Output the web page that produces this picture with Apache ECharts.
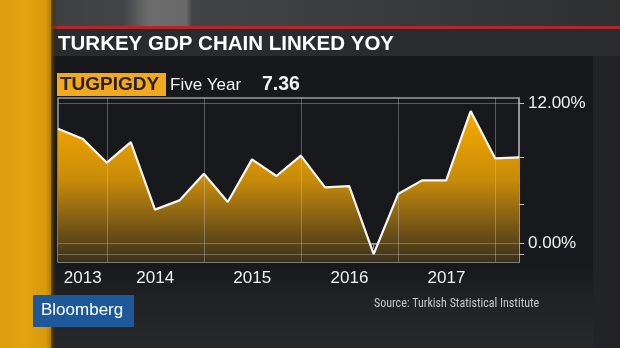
<!DOCTYPE html>
<html>
<head>
<meta charset="utf-8">
<script src="https://cdn.jsdelivr.net/npm/echarts@6/dist/echarts.min.js"></script>
<style>
html,body{margin:0;padding:0;background:#1d1e21;}
#c{width:620px;height:348px;}
</style>
</head>
<body>
<div id="c"></div>
<script>
// ---- data ----
var quarterEnds = ['2013-06-30','2013-09-30','2013-12-31','2014-03-31','2014-06-30','2014-09-30','2014-12-31','2015-03-31','2015-06-30','2015-09-30','2015-12-31','2016-03-31','2016-06-30','2016-09-30','2016-12-31','2017-03-31','2017-06-30','2017-09-30','2017-12-31','2018-03-31'];
var gdpYoY = [9.81, 8.96, 6.91, 8.67, 2.90, 3.69, 5.97, 3.55, 7.19, 5.77, 7.51, 4.80, 4.91, -0.89, 4.23, 5.40, 5.40, 11.31, 7.28, 7.36];
var yearLabelDates = ['2013-10-01','2014-07-01','2015-07-01','2016-07-01','2017-07-01'];
var yearLines = ['2014-01-01','2015-01-01','2016-01-01','2017-01-01','2018-01-01'];
var yLabelValues = [12, 0];
var yTickValues = [12, 7.36, 3.4, 0, -0.9];
var yGridValues = [12, 0, -0.9];
var titleText = 'TURKEY GDP CHAIN LINKED YOY';
var tickerText = 'TUGPIGDY';
var periodText = 'Five Year';
var lastValueText = '7.36';
var sourceText = 'Source: Turkish Statistical Institute';

function ts(s){ return new Date(s + 'T00:00:00Z').getTime(); }
var seriesData = quarterEnds.map(function(d,i){ return [ts(d), gdpYoY[i]]; });
var quarterTicks = [];
(function(){
  var ys=[2013,2014,2015,2016,2017,2018];
  var md=['-03-31','-06-30','-09-30','-12-31'];
  ys.forEach(function(y){ md.forEach(function(m){ var t=ts(y+m); if(t>=ts(quarterEnds[0]) && t<=ts(quarterEnds[quarterEnds.length-1])) quarterTicks.push(t);});});
})();

var chart = echarts.init(document.getElementById('c'), null, {renderer:'canvas'});
var font = '"Liberation Sans", Arial, sans-serif';
var narrow = '"Liberation Sans Narrow", "Roboto Condensed", "DejaVu Sans Condensed", sans-serif';

var markLineData = [];
yearLines.forEach(function(d){ markLineData.push({xAxis: ts(d)}); });
yGridValues.forEach(function(v){ markLineData.push({yAxis: v}); });

chart.setOption({
  backgroundColor: '#1d1e21',
  animation: false,
  graphic: [
    {type:'rect', z:-10, shape:{x:0,y:0,width:620,height:27}, style:{fill:{type:'linear',x:0,y:0,x2:1,y2:0,colorStops:[{offset:0,color:'#3a3b3d'},{offset:0.2,color:'#444547'},{offset:0.24,color:'#6c6c6c'},{offset:0.3,color:'#6a6a6a'},{offset:0.31,color:'#434446'},{offset:1,color:'#2e2f31'}]}}},
    {type:'rect', z:-9, shape:{x:50,y:26,width:570,height:3}, style:{fill:'#b3272b'}},
    {type:'rect', z:-9, shape:{x:50,y:29,width:570,height:27}, style:{fill:'#2a2b2e'}},
    {type:'rect', z:-9, shape:{x:593,y:56,width:27,height:292}, style:{fill:'#222326'}},
    {type:'rect', z:-9, shape:{x:50,y:56,width:543,height:292}, style:{fill:{type:'linear',x:0,y:0,x2:0,y2:1,colorStops:[{offset:0,color:'#17181b'},{offset:0.72,color:'#18191c'},{offset:0.85,color:'#222325'},{offset:1,color:'#27282a'}]}}},
    {type:'rect', z:-8, shape:{x:0,y:0,width:51,height:348}, style:{fill:{type:'linear',x:0,y:0,x2:1,y2:0,colorStops:[{offset:0,color:'#dc9c0c'},{offset:0.5,color:'#e3a412'},{offset:0.9,color:'#d89a0a'},{offset:1,color:'#b27c08'}]}}},
    {type:'rect', z:-8, shape:{x:51,y:0,width:6,height:348}, style:{fill:{type:'linear',x:0,y:0,x2:1,y2:0,colorStops:[{offset:0,color:'#6a4a08'},{offset:1,color:'rgba(30,30,32,0)'}]}}},
    {type:'text', z:5, left:58, top:34, style:{text:titleText, fill:'#ffffff', font:'bold 20.5px ' + font}},
    {type:'rect', z:5, shape:{x:57,y:73,width:109,height:23}, style:{fill:'#f3a91e'}},
    {type:'text', z:6, left:60, top:75, style:{text:tickerText, fill:'#2a2420', font:'bold 19px ' + font}},
    {type:'text', z:6, left:170, top:77, style:{text:periodText, fill:'#f2f2f2', font:'17px ' + font}},
    {type:'text', z:6, left:262, top:75, style:{text:lastValueText, fill:'#f2f2f2', font:'bold 19.5px ' + font}},
    {type:'rect', z:5, shape:{x:33,y:295,width:101,height:32}, style:{fill:'#1d5898'}},
    {type:'text', z:6, left:41, top:302, style:{text:'Bloomberg', fill:'#ffffff', font:'17px ' + font}},
    {type:'text', z:6, left:374, top:298, style:{text:sourceText, fill:'#c8c8c8', font:'12px ' + narrow}}
  ],
  grid: {left:58, top:98, width:461, height:164, show:true, borderColor:'#9c9c9c', borderWidth:1.5, backgroundColor:'transparent'},
  xAxis: {
    type:'value',
    min: ts(quarterEnds[0]),
    max: ts(quarterEnds[quarterEnds.length-1]),
    axisLine:{show:true, lineStyle:{color:'#9c9c9c', width:1.5}},
    axisTick:{show:true, length:5, lineStyle:{color:'#9c9c9c'}, customValues: quarterTicks},
    axisLabel:{show:true, color:'#f0f0f0', fontSize:17, fontFamily:font, margin:8,
      customValues: yearLabelDates.map(ts),
      formatter:function(v){ return String(new Date(v).getUTCFullYear()); }},
    splitLine:{show:false}
  },
  yAxis: {
    type:'value',
    position:'right',
    min:-1.57,
    max:12.43,
    axisLine:{show:true, lineStyle:{color:'#9c9c9c', width:1.5}},
    axisTick:{show:true, length:5, lineStyle:{color:'#bdbdbd'}, customValues: yTickValues},
    axisLabel:{show:true, color:'#f0f0f0', fontSize:17, fontFamily:font, margin:9,
      customValues: yLabelValues,
      formatter:function(v){ return v.toFixed(2) + '%'; }},
    splitLine:{show:false}
  },
  series: [{
    type:'line',
    data: seriesData,
    symbol:'none',
    lineStyle:{color:'#f7f7f7', width:2.2},
    areaStyle:{origin:'start', opacity:1, color:{type:'linear', x:0, y:0, x2:0, y2:1, colorStops:[{offset:0,color:'#f8ab00'},{offset:0.45,color:'#c98c0a'},{offset:1,color:'#3a301c'}]}},
    markLine:{silent:true, symbol:['none','none'], label:{show:false}, animation:false,
      lineStyle:{color:'rgba(210,210,210,0.35)', width:1, type:'solid'},
      data: markLineData},
    z:2
  }]
});
</script>
</body>
</html>
